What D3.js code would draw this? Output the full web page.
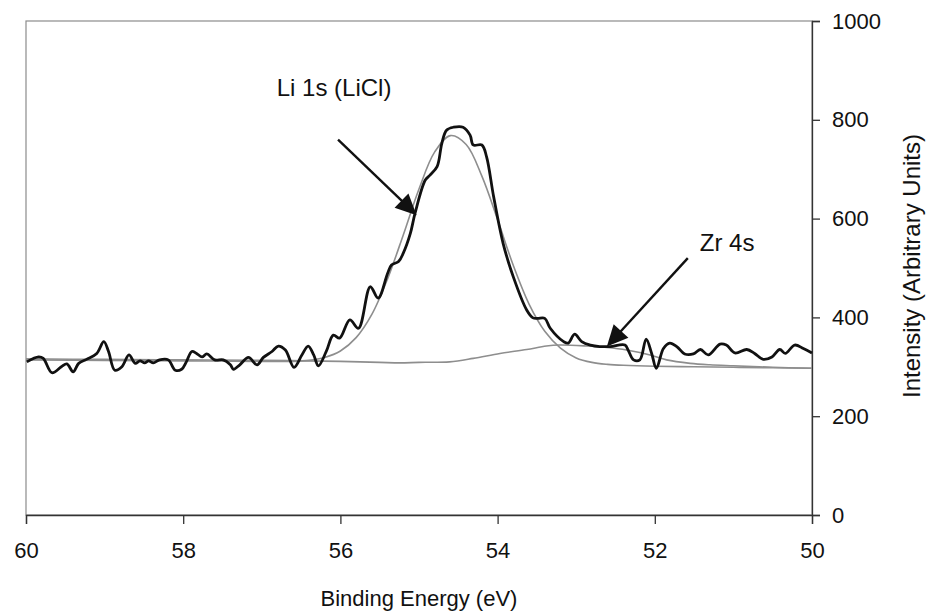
<!DOCTYPE html>
<html>
<head>
<meta charset="utf-8">
<script src="https://cdn.jsdelivr.net/npm/d3@7"></script>
<style>
  html, body { margin: 0; padding: 0; background: #fff; }
  svg { display: block; }
  text { font-family: Arial, "Liberation Sans", sans-serif; fill: #111; }
</style>
</head>
<body>
<svg id="chart" width="929" height="613"></svg>
<script>
// ---- Data ----
// Measured spectrum (black, noisy)
const dataEnergy = [59.99,59.84,59.78,59.67,59.55,59.48,59.40,59.33,59.23,59.10,59.01,58.95,58.87,58.78,58.69,58.61,58.55,58.49,58.44,58.38,58.30,58.19,58.10,58.02,57.96,57.89,57.83,57.76,57.70,57.60,57.49,57.40,57.36,57.28,57.17,57.06,56.98,56.87,56.79,56.70,56.59,56.49,56.41,56.34,56.28,56.18,56.09,56.01,55.88,55.77,55.62,55.52,55.40,55.35,55.26,55.20,55.11,55.05,54.92,54.86,54.77,54.71,54.65,54.56,54.44,54.35,54.31,54.20,54.14,54.05,53.93,53.80,53.63,53.55,53.49,53.40,53.33,53.16,53.10,53.02,52.93,52.82,52.70,52.57,52.38,52.34,52.27,52.19,52.11,52.04,51.98,51.89,51.81,51.72,51.62,51.51,51.42,51.32,51.17,51.09,50.98,50.83,50.73,50.62,50.51,50.41,50.34,50.22,50.11,50.00];
const dataIntensity = [310,320,317,288,300,306,290,307,315,327,351,331,293,300,324,307,312,308,312,308,314,314,293,295,310,331,327,320,326,314,314,304,295,304,319,304,319,331,342,334,299,324,342,324,302,331,364,358,395,378,462,439,489,506,513,530,570,611,678,688,705,752,779,785,785,769,749,749,725,644,550,482,415,399,398,398,378,351,348,366,351,344,341,341,344,334,314,314,356,327,297,337,348,341,326,326,335,324,346,344,328,335,327,315,320,335,327,344,337,328];

// Li 1s fitted component (grey)
const liEnergy = [60,59,58,57,56.6,56.4,56.2,56.0,55.8,55.6,55.4,55.2,55.0,54.8,54.6,54.4,54.2,54.0,53.8,53.6,53.4,53.2,53.0,52.8,52.6,52.4,52.0,51.5,51.0,50.5,50];
const liIntensity = [314,313,312,311,311,313,319,332,359,406,478,567,660,735,768,750,686,598,505,427,372,338,318,309,305,303,301,300,299,298,297];

// Zr 4s fitted component (grey)
const zrEnergy = [60,59,58,57,56,55.5,55.24,55.0,54.61,54.31,53.97,53.63,53.38,53.21,52.87,52.61,52.36,52.06,51.85,51.55,51.30,51.0,50.5,50];
const zrIntensity = [316,315,314,313,311,309,308,309,310,317,327,335,342,344,342,339,334,324,314,307,304,302,299,297];

// Axis ticks
const xTicks = [60,58,56,54,52,50];
const yTicks = [0,200,400,600,800,1000];

// Annotations: label, text anchor point, arrow start, arrow tip (data units)
const annLabels = ["Li 1s (LiCl)", "Zr 4s"];
const annTextE = [56.08, 51.08];
const annTextI = [848, 534];
const annStartE = [56.03, 51.58];
const annStartI = [760, 520];
const annTipE = [55.03, 52.61];
const annTipI = [607, 341];

// ---- Drawing ----
const svg = d3.select("#chart");
const mLeft = 26, mRight = 812, mTop = 21, mBottom = 515;
const x = d3.scaleLinear().domain([60, 50]).range([mLeft, mRight]);
const y = d3.scaleLinear().domain([0, 1000]).range([mBottom, mTop]);
const FONT = "Arial, 'Liberation Sans', sans-serif";

// plot frame (light)
svg.append("rect")
  .attr("x", mLeft).attr("y", mTop)
  .attr("width", mRight - mLeft).attr("height", mBottom - mTop)
  .attr("fill", "none").attr("stroke", "#8c8c8c").attr("stroke-width", 1.2);

// bottom axis
const xAxis = d3.axisBottom(x).tickValues(xTicks).tickSize(9).tickPadding(18).tickFormat(d3.format("d"));
const gx = svg.append("g").attr("transform", `translate(0,${mBottom})`).call(xAxis);
gx.select(".domain").attr("stroke", "#333").attr("stroke-width", 1.3);
gx.selectAll(".tick line").attr("stroke", "#333").attr("stroke-width", 1.3);
gx.selectAll(".tick text").attr("font-size", 22).attr("fill", "#111").style("font-family", FONT);

// right axis
const yAxis = d3.axisRight(y).tickValues(yTicks).tickSize(8).tickPadding(12).tickFormat(d3.format("d"));
const gy = svg.append("g").attr("transform", `translate(${mRight},0)`).call(yAxis);
gy.select(".domain").attr("stroke", "#333").attr("stroke-width", 1.3);
gy.selectAll(".tick line").attr("stroke", "#333").attr("stroke-width", 1.3);
gy.selectAll(".tick text").attr("font-size", 22).attr("fill", "#111").style("font-family", FONT);

// axis titles
svg.append("text")
  .attr("x", 419).attr("y", 606)
  .attr("text-anchor", "middle").attr("font-size", 22)
  .text("Binding Energy (eV)");
svg.append("text")
  .attr("transform", `translate(920,266) rotate(-90)`)
  .attr("text-anchor", "middle").attr("font-size", 24)
  .text("Intensity (Arbitrary Units)");

// curves
const line = d3.line().x(d => x(d[0])).y(d => y(d[1])).curve(d3.curveCatmullRom.alpha(0.5));
const zip = (a, b) => a.map((v, i) => [v, b[i]]);

svg.append("path").datum(zip(zrEnergy, zrIntensity))
  .attr("d", line).attr("fill", "none")
  .attr("stroke", "#8e8e8e").attr("stroke-width", 1.6);
svg.append("path").datum(zip(liEnergy, liIntensity))
  .attr("d", line).attr("fill", "none")
  .attr("stroke", "#8e8e8e").attr("stroke-width", 1.6);
svg.append("path").datum(zip(dataEnergy, dataIntensity))
  .attr("d", line).attr("fill", "none")
  .attr("stroke", "#111").attr("stroke-width", 2.8)
  .attr("stroke-linejoin", "round");

// annotations
annLabels.forEach((lab, i) => {
  svg.append("text")
    .attr("x", x(annTextE[i])).attr("y", y(annTextI[i]))
    .attr("text-anchor", "middle").attr("font-size", 24)
    .text(lab);
  const x0 = x(annStartE[i]), y0 = y(annStartI[i]);
  const x1 = x(annTipE[i]), y1 = y(annTipI[i]);
  const dx = x1 - x0, dy = y1 - y0, len = Math.hypot(dx, dy);
  const ux = dx / len, uy = dy / len;
  const headLen = 21, halfW = 10;
  const bx = x1 - ux * headLen, by = y1 - uy * headLen;
  svg.append("line")
    .attr("x1", x0).attr("y1", y0).attr("x2", bx + ux * 2).attr("y2", by + uy * 2)
    .attr("stroke", "#111").attr("stroke-width", 2.4);
  svg.append("polygon")
    .attr("points", [[x1, y1], [bx - uy * halfW, by + ux * halfW], [bx + uy * halfW, by - ux * halfW]].map(p => p.join(",")).join(" "))
    .attr("fill", "#111");
});
</script>
</body>
</html>
